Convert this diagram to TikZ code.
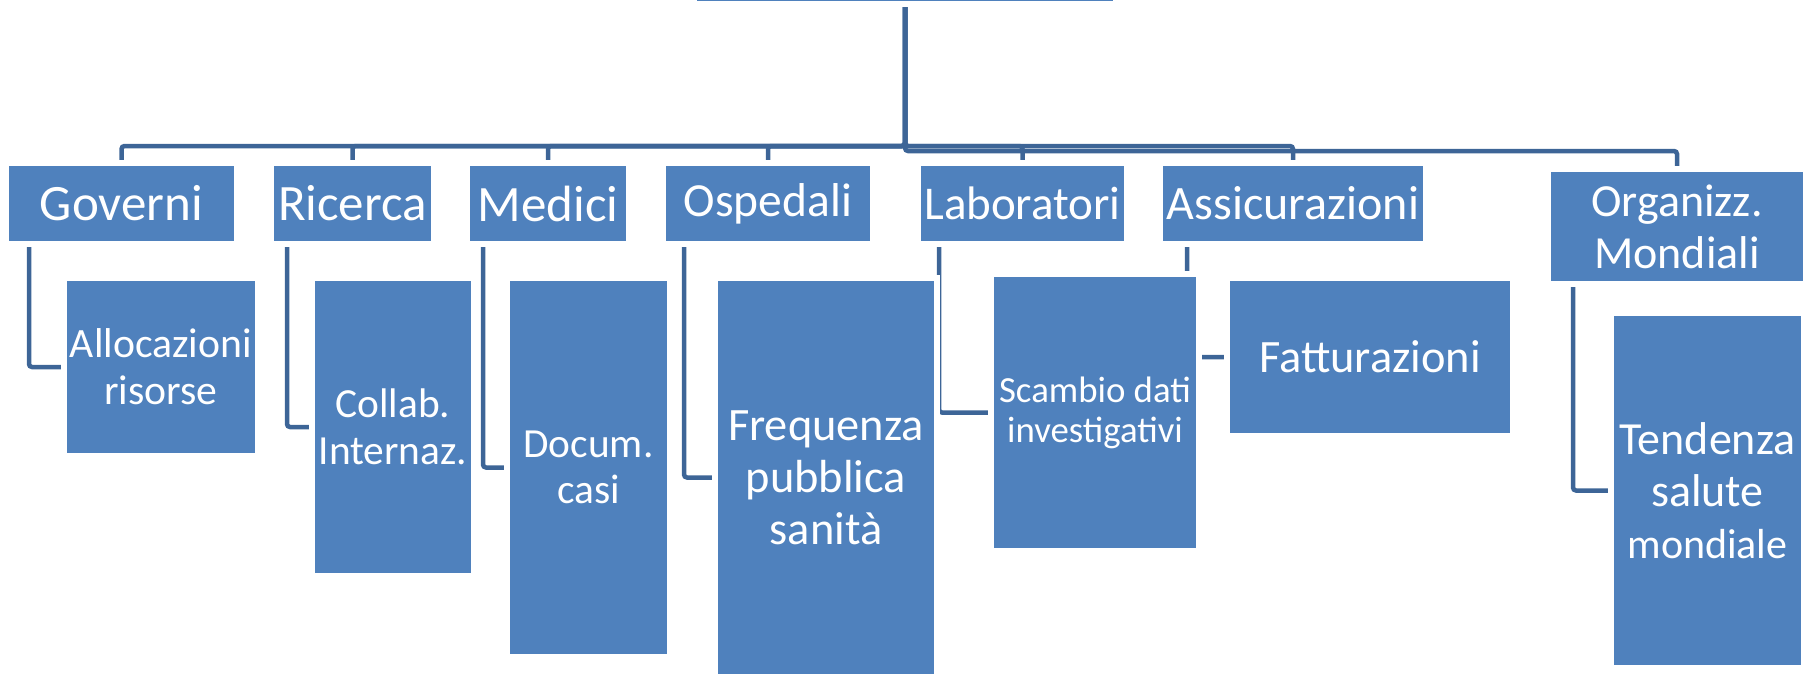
\documentclass[tikz,border=0pt]{standalone}
\usepackage{fontspec}
\setmainfont{Carlito}
\usepackage{tikz}
\usetikzlibrary{backgrounds}
\definecolor{boxblue}{HTML}{4F81BD}
\definecolor{linkblue}{HTML}{3D6597}

\begin{document}
\begin{tikzpicture}[x=1pt, y=-1pt,
  box/.style={rectangle, fill=boxblue, draw=white, line width=6pt, anchor=north west,
    inner sep=0pt, outer sep=0pt, text=white, align=center},
  conn/.style={draw=linkblue, line width=4.5pt, rounded corners=3pt}]
\useasboundingbox (0,0) rectangle (1806,675);
% root (only its lower edge is on the page)
\node[box, minimum width=422, minimum height=100] (root) at (694,-96) {};
% name/left/top/width/height/size/skip/label
\foreach \n/\x/\y/\w/\h/\fs/\bs/\lbl in {
  gov/9/166/225/75/51/57/Governi,
  ric/274/166/157/75/51/57/Ricerca,
  med/470/166/156/75/51/57/Medici,
  osp/666/166/204/75/47.5/53/Ospedali,
  lab/921/166/203/75/47/53/Laboratori,
  ass/1163/166/260/75/48/54/Assicurazioni,
  org/1551/172/252/109/46/52/{Organizz.\\Mondiali},
  alloc/67/281/188/172/41.7/47/{Allocazioni\\risorse},
  coll/315/281/156/292/41.4/47/{Collab.\\Internaz.},
  doc/510/281/157/373/41.4/46/{Docum.\\casi},
  freq/718/281/216/393/46.4/52/{Frequenza\\pubblica\\sanità},
  scam/994/277/202/271/36.8/40/{Scambio dati\\investigativi},
  fatt/1230/281/280/152/46.4/52/Fatturazioni,
  tend/1614/316/187/349/46/52/{Tendenza\\salute\\\fontsize{42}{47}\selectfont mondiale}}
  \node[box, minimum width=\w+6, minimum height=\h+6,
    font=\fontsize{\fs}{\bs}\selectfont] (\n) at (\x-3,\y-3) {\lbl};
\begin{scope}[on background layer]
% root to first row
\foreach \c/\d in {gov/17, ric/17, med/17, osp/17, lab/17, ass/17, org/18}
  \draw[conn] (root.south) |- ([yshift=\d pt]\c.north) -- (\c.north);
% first row to second row
\foreach \p/\c/\o in {gov/alloc/23, ric/coll/16, med/doc/16, osp/freq/21,
    lab/scam/21, ass/fatt/27, org/tend/25}
  \draw[conn] ([xshift=\o pt]\p.south west) |- (\c.west);
\end{scope}
\end{tikzpicture}
\end{document}
